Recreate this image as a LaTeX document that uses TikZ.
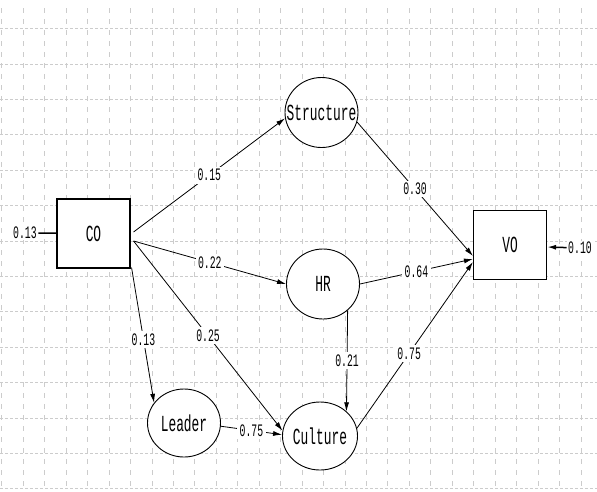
\documentclass[tikz,border=0pt]{standalone}
\usepackage{fontspec}
\newfontfamily\pathfont[FakeStretch=0.56]{Liberation Mono}
\usetikzlibrary{arrows.meta,shapes.geometric}

\tikzset{
  gridv/.style={gray!40, line width=0.7pt, dash pattern=on 5pt off 6pt},
  gridh/.style={gray!40, line width=0.7pt, dash pattern=on 3pt off 2pt},
  observed/.style={draw, line width=1.1pt, fill=white, minimum width=73pt,
    minimum height=69pt, inner sep=0pt, font=\fontsize{23}{23}\pathfont},
  latent/.style={draw, ellipse, line width=0.9pt, fill=white, minimum width=73pt,
    minimum height=70pt, inner sep=0pt, font=\fontsize{23}{23}\pathfont,
    execute at begin node={\hbox to 0pt\bgroup\hss},
    execute at end node={\hss\egroup}},
  effect/.style={-{Latex[length=9pt,width=5pt]}, line width=0.8pt},
  coef/.style={fill=white, inner sep=2.5pt, font=\fontsize{17.5}{17.5}\pathfont},
}

\begin{document}
\begin{tikzpicture}[x=1pt, y=-1pt]
\useasboundingbox (0,0) rectangle (597,491);
% Grid
\foreach \i in {0,...,27}
  \draw[gridv] ({1.7+21.45*\i},8) -- ({1.7+21.45*\i},491);
\foreach \j in {0,...,13}
  \draw[gridh] (0,{28.5+35.4*\j}) -- (597,{28.5+35.4*\j});

% Variables
\node[observed] (CO) at (93.5,233.5) {CO};
\node[observed] (VO) at (510,245) {VO};
\node[latent] (Structure) at (321.5,112.5) {Structure};
\node[latent] (HR) at (323,284) {HR};
\node[latent, minimum height=68pt] (Leader) at (184,423) {Leader};
\node[latent, minimum width=75pt, minimum height=68pt] (Culture) at (320,436) {Culture};

% Residuals
\node[coef, inner sep=1.5pt] (eCO) at (25,233) {0.13};
\draw[line width=1.5pt] (eCO) -- (CO);
\node[coef, inner sep=1.5pt] (eVO) at (580,248) {0.10};
\draw[effect, line width=1.5pt] (eVO) -- ([yshift=-2pt]VO.east);

% Paths
\draw[effect] ([shift={(3,-1.5)}]CO.east) -- node[coef] {0.15} (Structure.189);
\draw[effect] ([shift={(3,7.5)}]CO.east) -- node[coef] {0.22} (HR.180);
\draw[effect] ([shift={(1,-1)}]CO.south east) -- node[coef, pos=0.53] {0.13} (Leader.146);
\draw[effect] ([shift={(3,7.5)}]CO.east) -- node[coef] {0.25} (Culture.172);
\draw[effect] (Structure.345) -- node[coef] {0.30} ([yshift=-11pt]VO.west);
\draw[effect] (HR.0) -- node[coef] {0.64} ([yshift=-14pt]VO.west);
\draw[effect] (HR.313) -- node[coef] {0.21} (Culture.43);
\draw[effect] (Culture.12) -- node[coef, pos=0.45] {0.75} ([yshift=-17pt]VO.west);
\draw[effect] (Leader.355) -- node[coef] {0.75} (Culture.178);
\end{tikzpicture}
\end{document}
